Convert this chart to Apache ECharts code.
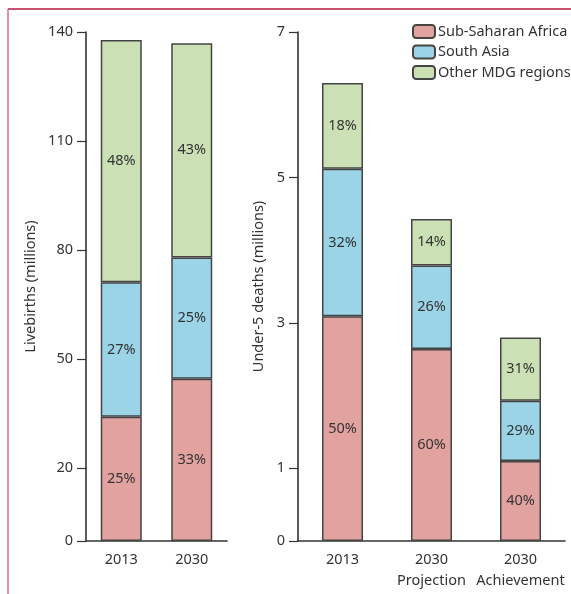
<!DOCTYPE html>
<html>
<head>
<meta charset="utf-8">
<script src="https://cdn.jsdelivr.net/npm/echarts@6/dist/echarts.min.js"></script>
<style>
html, body { margin: 0; padding: 0; background: #fff; }
#chart { width: 571px; height: 594px; }
</style>
</head>
<body>
<div id="chart"></div>
<script>
var birthYears = ['2013', '2030'];
var birthTicks = [0, 20, 50, 80, 110, 140];
var birthSsa = [34.2, 44.6];
var birthAsia = [37.0, 33.4];
var birthOther = [66.6, 58.9];
var birthSsaPct = ['25%', '33%'];
var birthAsiaPct = ['27%', '25%'];
var birthOtherPct = ['48%', '43%'];

var deathCats = ['2013', '2030\nProjection', '2030\nAchievement'];
var deathTicks = [0, 1, 3, 5, 7];
var deathSsa = [3.09, 2.64, 1.10];
var deathAsia = [2.03, 1.15, 0.83];
var deathOther = [1.18, 0.64, 0.87];
var deathSsaPct = ['50%', '60%', '40%'];
var deathAsiaPct = ['32%', '26%', '29%'];
var deathOtherPct = ['18%', '14%', '31%'];

var colors = ['#e2a3a0', '#9bd4e7', '#cbe1b5'];
var font = 'Noto Sans';
var txt = '#333';

var myChart = echarts.init(document.getElementById('chart'));

function yAxisFn(gridIndex, max, ticks, name, gap) {
    return {
        type: 'value',
        gridIndex: gridIndex,
        min: 0,
        max: max,
        name: name,
        nameLocation: 'middle',
        nameGap: gap,
        nameTextStyle: { color: txt, fontSize: 14.5, fontFamily: font },
        splitLine: { show: false },
        axisLine: { show: true, lineStyle: { color: '#333', width: 1.6 } },
        axisTick: { show: true, length: 9, customValues: ticks, lineStyle: { color: '#333', width: 1.2 } },
        axisLabel: { customValues: ticks, color: txt, fontSize: 14.5, fontFamily: font, margin: 13 }
    };
}

function xAxisFn(gridIndex, cats) {
    return {
        type: 'category',
        gridIndex: gridIndex,
        data: cats,
        axisLine: { lineStyle: { color: '#333', width: 1.6 } },
        axisTick: { length: 7, lineStyle: { color: '#333', width: 1.2 } },
        axisLabel: {
            interval: 0,
            hideOverlap: false,
            align: 'center',
            color: txt,
            fontSize: 14.5,
            fontFamily: font,
            margin: 8,
            lineHeight: 21
        }
    };
}

function barFn(name, idx, stack, values, pcts, color) {
    return {
        name: name,
        type: 'bar',
        stack: stack,
        xAxisIndex: idx,
        yAxisIndex: idx,
        barWidth: 41,
        itemStyle: { color: color, borderColor: '#444', borderWidth: 1.5 },
        label: {
            show: true,
            position: 'inside',
            color: txt,
            fontSize: 14.5,
            fontFamily: font,
            formatter: function(p) { return pcts[p.dataIndex]; }
        },
        data: values
    };
}

var option = {
    animation: false,
    legend: {
        orient: 'vertical',
        left: 412,
        top: 24,
        padding: 0,
        itemWidth: 22,
        itemHeight: 13,
        itemGap: 5.5,
        textStyle: { color: txt, fontSize: 14.5, fontFamily: font, padding: [0, 0, 0, -2] },
        data: ['Sub-Saharan Africa', 'South Asia', 'Other MDG regions']
    },
    grid: [
        { left: 86, right: 344, top: 32, bottom: 53 },
        { left: 298, right: 6, top: 32, bottom: 53 }
    ],
    xAxis: [xAxisFn(0, birthYears), xAxisFn(1, deathCats)],
    yAxis: [
        yAxisFn(0, 140, birthTicks, 'Livebirths (millions)', 48),
        yAxisFn(1, 7, deathTicks, 'Under-5 deaths (millions)', 32)
    ],
    series: [
        barFn('Sub-Saharan Africa', 0, 'births', birthSsa, birthSsaPct, colors[0]),
        barFn('South Asia', 0, 'births', birthAsia, birthAsiaPct, colors[1]),
        barFn('Other MDG regions', 0, 'births', birthOther, birthOtherPct, colors[2]),
        barFn('Sub-Saharan Africa', 1, 'deaths', deathSsa, deathSsaPct, colors[0]),
        barFn('South Asia', 1, 'deaths', deathAsia, deathAsiaPct, colors[1]),
        barFn('Other MDG regions', 1, 'deaths', deathOther, deathOtherPct, colors[2])
    ],
    graphic: [
        { type: 'line', shape: { x1: 8, y1: 9, x2: 571, y2: 9 }, style: { stroke: '#b8173f', lineWidth: 1.5 } },
        { type: 'line', shape: { x1: 8, y1: 9, x2: 8, y2: 594 }, style: { stroke: '#dc6a8a', lineWidth: 1.5 } }
    ]
};
myChart.setOption(option);
</script>
</body>
</html>
